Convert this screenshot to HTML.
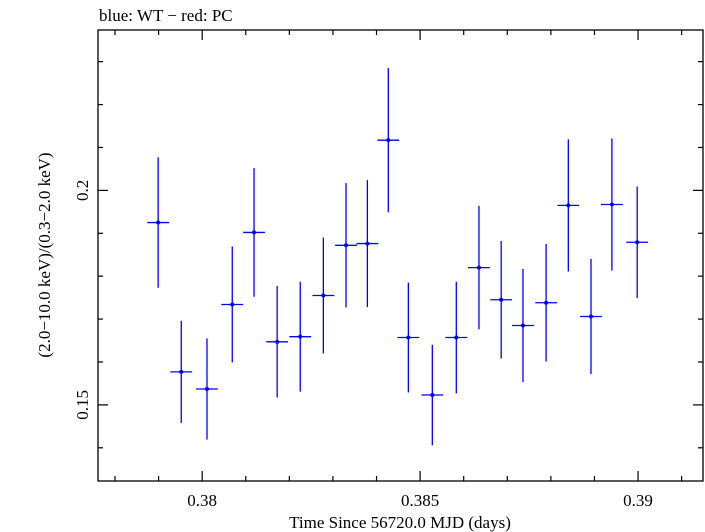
<!DOCTYPE html>
<html><head><meta charset="utf-8"><style>
body{margin:0;background:#fff;}
svg{display:block;font-family:"Liberation Serif",serif;}
</style></head><body>
<svg id="chart" width="705" height="532" xmlns="http://www.w3.org/2000/svg">
<text x="99" y="21" font-size="17" fill="#000">blue: WT − red: PC</text>
<rect x="98" y="30" width="605" height="451" fill="none" stroke="#000" stroke-width="1.3"/>
<g id="ticks"></g>
<g id="marks"></g>
<text x="400" y="528" font-size="17" text-anchor="middle">Time Since 56720.0 MJD (days)</text>
<text transform="translate(50,255) rotate(-90)" font-size="17" text-anchor="middle">(2.0−10.0 keV)/(0.3−2.0 keV)</text>
</svg>
<script>
const times=[0.37899,0.37952,0.38011,0.38069,0.38119,0.38172,0.38225,0.38278,0.38330,0.38379,0.38427,0.38473,0.38528,0.38583,0.38635,0.38686,0.38736,0.38789,0.38840,0.38892,0.38940,0.38998];
const ratios=[0.1925,0.1577,0.1537,0.1734,0.1902,0.1647,0.1659,0.1755,0.1872,0.1876,0.2117,0.1657,0.1523,0.1657,0.1820,0.1745,0.1685,0.1738,0.1965,0.1706,0.1967,0.1879];
const errors=[0.0152,0.0119,0.0118,0.0135,0.0150,0.0130,0.0128,0.0135,0.0145,0.0148,0.0168,0.0128,0.0117,0.0130,0.0144,0.0137,0.0132,0.0137,0.0154,0.0134,0.0154,0.0130];
const halfBin=0.00025;
const xTickLabels=["0.38","0.385","0.39"];
const yTickLabels=["0.15","0.2"];
const X0=98,X1=703,Y0=30,Y1=481;
const xMin=0.37761,xMax=0.39149,yMin=0.13226,yMax=0.23738;
const sx=v=>X0+(v-xMin)/(xMax-xMin)*(X1-X0);
const sy=v=>Y1-(v-yMin)/(yMax-yMin)*(Y1-Y0);
const NS="http://www.w3.org/2000/svg";
function mk(tag,attrs,parent){const e=document.createElementNS(NS,tag);for(const k in attrs)e.setAttribute(k,attrs[k]);parent.appendChild(e);return e;}
const tg=document.getElementById('ticks');
for(let i=378;i<=391;i++){
  const v=i/1000,x=sx(v);if(x<X0||x>X1)continue;
  const major=(i%5===0),L=major?10:5;
  const t1=mk('line',{x1:x,x2:x,y1:Y1,y2:Y1-L,stroke:'#000','stroke-width':1.2},tg);
  
  
  mk('line',{x1:x,x2:x,y1:Y0,y2:Y0+L,stroke:'#000','stroke-width':1.2},tg);
}
xTickLabels.forEach(s=>{
  const t=mk('text',{x:sx(parseFloat(s)),y:506,'font-size':17,'text-anchor':'middle'},tg);
  t.textContent=s;
  
  
});
for(let i=14;i<=23;i++){
  const v=i/100,y=sy(v);if(y<Y0||y>Y1)continue;
  const major=(i%5===0),L=major?10:5;
  const t1=mk('line',{x1:X0,x2:X0+L,y1:y,y2:y,stroke:'#000','stroke-width':1.2},tg);
  
  
  mk('line',{x1:X1,x2:X1-L,y1:y,y2:y,stroke:'#000','stroke-width':1.2},tg);
}
yTickLabels.forEach(s=>{
  const y=sy(parseFloat(s));
  const t=mk('text',{transform:`translate(88,${y}) rotate(-90)`,'font-size':17,'text-anchor':'middle'},tg);
  t.textContent=s;
  
  
});
const mg=document.getElementById('marks');
times.forEach((t,i)=>{
  const g=mk('g',{},mg);
  
  
  const x=sx(t),y=sy(ratios[i]);
  mk('line',{x1:x,x2:x,y1:sy(ratios[i]+errors[i]),y2:sy(ratios[i]-errors[i]),stroke:'#0000ff','stroke-width':1.3},g);
  mk('line',{x1:sx(t-halfBin),x2:sx(t+halfBin),y1:y,y2:y,stroke:'#0000ff','stroke-width':1.3},g);
  mk('circle',{cx:x,cy:y,r:2,fill:'#0000ff'},g);
});
</script>
</body></html>
